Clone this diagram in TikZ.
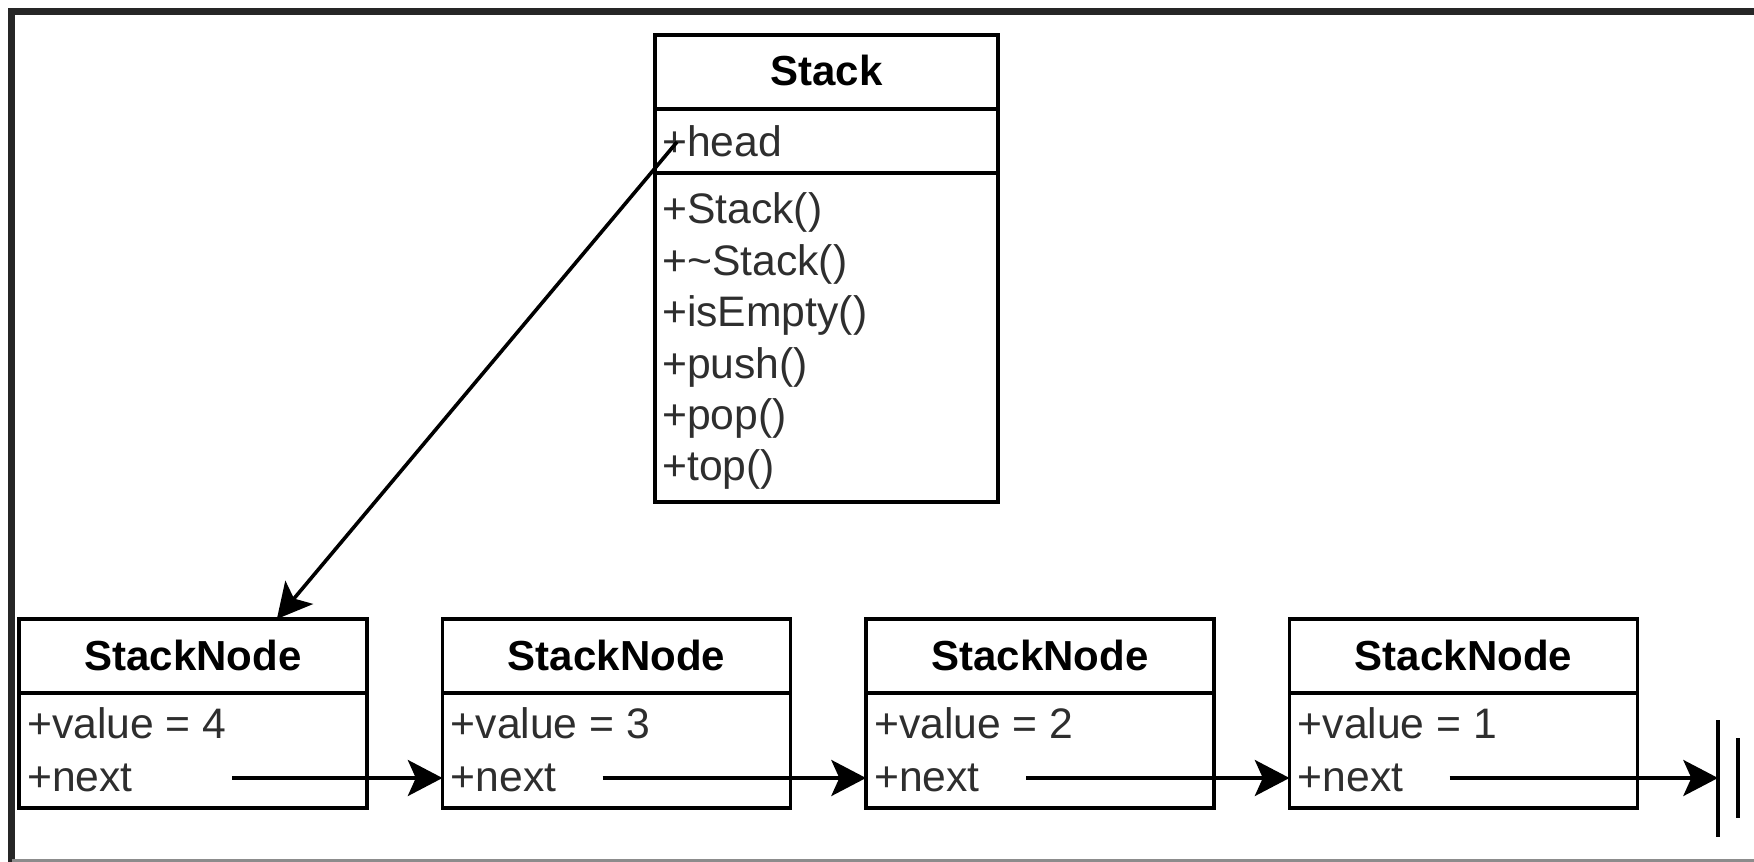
\documentclass[tikz,border=0pt]{standalone}
\usepackage{fontspec}
\setmainfont{Liberation Sans}
\usetikzlibrary{arrows.meta,calc}
\begin{document}
\begin{tikzpicture}[x=0.75pt,y=-0.75pt,
  box/.style={draw,line width=2.8pt,inner sep=0,outer sep=0},
  txt/.style={anchor=base west,inner sep=0,text=black!82,font=\fontsize{32}{38}\selectfont},
  ttl/.style={anchor=base,inner sep=0,font=\fontsize{31.5}{38}\selectfont\bfseries},
  link/.style={line width=2.7pt,-{Stealth[length=26pt,width=27pt,inset=6pt]}},
  bar/.style={line width=2.7pt},
]
\useasboundingbox (0,0) rectangle (1754,862);
% frame
\draw[line width=5.5pt,color=black!85] (1754,11.5) -- (11.5,11.5) -- (11.5,862);
\draw[line width=2.25pt,color=black!45] (11.5,860) -- (1754,860);

% Stack class
\node[box,minimum width=343*0.75pt,minimum height=74*0.75pt] (stT) at (826.5,72) {};
\node[box,minimum width=343*0.75pt,minimum height=64*0.75pt] (stH) at (826.5,141) {};
\node[box,minimum width=343*0.75pt,minimum height=329*0.75pt] (stM) at (826.5,337.5) {};
\node[ttl] (stTitle) at (826.5,86) {Stack};
\node[txt] (hd) at (662,157) {+head};
\node[txt] (m1) at (662,224) {+Stack()};
\node[txt] (m2) at (662,275.4) {+\char"7E Stack()};
\node[txt] (m3) at (662,326.8) {+isEmpty()};
\node[txt] (m4) at (662,378.2) {+push()};
\node[txt] (m5) at (662,429.6) {+pop()};
\node[txt] (m6) at (662,481) {+top()};

% StackNode classes
\foreach \i/\v in {1/4,2/3,3/2,4/1}{
  \pgfmathsetmacro{\L}{19+423.5*(\i-1)}
  \node[box,minimum width=348*0.75pt,minimum height=74*0.75pt] (h\i) at (\L+174,656) {};
  \node[box,minimum width=348*0.75pt,minimum height=115*0.75pt] (b\i) at (\L+174,750.5) {};
  \node[ttl] (t\i) at (\L+174,671) {StackNode};
  \node[txt] (v\i) at (\L+8,739) {+value = \v};
  \node[txt] (n\i) at (\L+8,791) {+next};
}

% head pointer
\coordinate (hs) at ($(stH.west)+(22,1)$);
\draw[link] (hs) -- ($(h1.north west)!0.741!(h1.north east)$);

% next pointers
\coordinate (p1) at ($(b1.west)+(213,27.5)$);
\coordinate (p2) at ($(b2.west)+(160,27.5)$);
\coordinate (p3) at ($(b3.west)+(160,27.5)$);
\coordinate (p4) at ($(b4.west)+(160,27.5)$);
\draw[link] (p1) -- (p1 -| b2.west);
\draw[link] (p2) -- (p2 -| b3.west);
\draw[link] (p3) -- (p3 -| b4.west);
\coordinate (nul) at (1718,778);
\draw[link] (p4) -- (nul);
\draw[bar] ($(nul)+(0,-58)$) -- ($(nul)+(0,59)$);
\draw[bar] ($(nul)+(20,-40)$) -- ($(nul)+(20,40)$);
\end{tikzpicture}
\end{document}
